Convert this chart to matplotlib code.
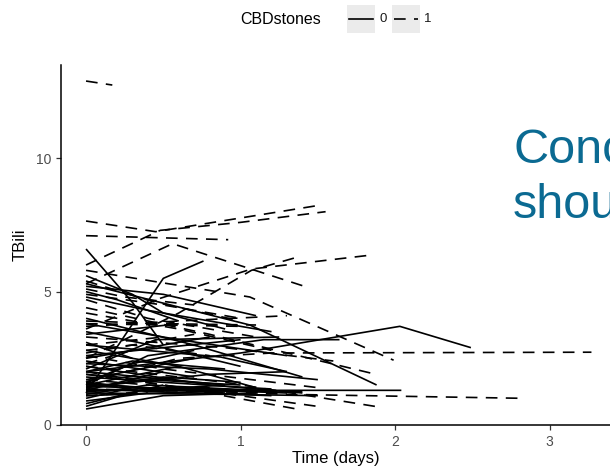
import matplotlib
matplotlib.use("Agg")
import matplotlib.pyplot as plt
from matplotlib.lines import Line2D
from matplotlib.patches import Rectangle

plt.rcParams['font.family'] = ['Liberation Sans', 'DejaVu Sans']

# 每位病人的觀察時間 (days) 與 TBili 數值, CBDstones = 0
solid_t = [
    [0, 1.0, 2.03, 2.49], [0, 1.06, 1.88], [0, 0.5, 2.04], [0, 0.5, 0.76],
    [0, 0.3, 0.5], [0, 0.3, 0.5, 0.9], [0, 0.4, 1.15, 1.64], [0, 0.87, 1.3],
    [0, 0.8, 1.5], [0, 0.5, 1.1], [0, 0.5], [0, 0.3, 0.9], [0, 0.6, 1.2],
    [0, 0.5, 1.0], [0, 0.7], [0, 0.9], [0, 0.4, 0.8], [0, 0.6, 1.1], [0, 0.3],
    [0, 0.5, 1.0], [0, 0.7, 1.4], [0, 0.4, 1.2], [0, 0.2, 0.6], [0, 0.5, 1.0],
    [0, 0.4], [0, 0.5, 1.2], [0, 0.6], [0, 0.3, 0.7], [0, 0.8, 1.4],
    [0, 0.6, 1.3], [0, 1.0], [0, 0.45, 1.25], [0, 0.5], [0, 0.35, 0.9],
    [0, 0.9, 1.5], [0, 0.4, 1.0], [0, 0.6], [0, 0.7], [0, 0.3, 0.8, 1.3],
    [0, 0.5, 1.1], [0, 0.6, 1.3], [0, 0.4, 1.1], [0, 0.8], [0, 0.5, 1.4],
    [0, 0.3, 0.9], [0, 0.7, 1.2],
]
solid_y = [
    [2.0, 2.7, 3.7, 2.9], [5.3, 3.75, 1.5], [1.6, 1.3, 1.3], [1.2, 5.5, 6.15],
    [6.6, 4.6, 3.0], [5.6, 4.9, 4.2, 3.6], [1.5, 2.6, 3.2, 3.2], [3.0, 2.55, 2.0],
    [2.3, 2.1, 1.7], [0.6, 1.1, 1.2], [0.8, 1.5], [1.0, 1.4, 1.2], [1.3, 1.3, 1.25],
    [1.4, 1.8, 1.6], [1.7, 2.5], [2.0, 1.5], [2.5, 2.9, 3.3], [2.8, 2.2, 1.4], [3.1, 2.5],
    [3.5, 2.9, 2.2], [4.0, 3.0, 1.8], [4.8, 4.3, 3.5], [5.0, 4.7, 3.9], [1.1, 1.2, 1.3],
    [0.9, 1.2], [1.8, 1.6, 1.35], [1.5, 2.2], [1.6, 2.3, 2.8], [2.2, 1.5, 1.2],
    [3.8, 3.2, 2.6], [2.6, 3.2], [2.1, 3.2, 3.3], [1.3, 2.0], [0.7, 1.3, 1.5],
    [1.2, 1.15, 1.1], [1.9, 1.7, 1.5], [3.4, 3.8], [2.4, 1.8], [1.4, 1.6, 1.9, 2.0],
    [5.2, 4.9, 4.1], [1.45, 1.35, 1.2], [1.15, 1.5, 1.3], [1.55, 1.25], [1.25, 1.4, 1.25],
    [2.0, 2.4, 2.1], [1.35, 1.2, 1.1],
]

# CBDstones = 1
dash_t = [
    [0, 0.17], [0, 0.45, 1.52], [0, 0.48, 1.0, 1.55], [0, 0.92], [0, 0.56, 1.44],
    [0, 0.48, 1.07, 1.84], [0, 0.6, 1.07, 1.37], [0, 1.06, 1.99], [0, 0.6, 1.2, 3.27],
    [0, 1.3, 2.83], [0, 0.8, 1.84], [0, 0.9, 1.9], [0, 0.7, 1.4], [0, 1.52],
    [0, 0.5, 1.0], [0, 0.6, 1.3], [0, 1.0], [0, 0.4, 1.1], [0, 0.5], [0, 0.3, 0.8],
    [0, 0.5, 1.5], [0, 0.25, 0.7], [0, 0.35], [0, 1.2], [0, 0.9, 1.6], [0, 0.8],
    [0, 0.6, 1.2], [0, 0.45, 1.0], [0, 0.7], [0, 0.6, 1.25], [0, 0.5, 1.1],
]
dash_y = [
    [12.9, 12.75], [7.65, 7.25, 8.25], [6.0, 7.3, 7.6, 8.0], [7.1, 6.95], [5.3, 6.8, 5.15],
    [3.6, 4.75, 5.85, 6.37], [2.5, 4.2, 5.8, 6.3], [5.8, 4.8, 2.43], [1.6, 2.5, 2.7, 2.73],
    [1.5, 1.15, 1.0], [4.4, 3.4, 1.95], [2.2, 1.6, 0.67], [2.0, 1.3, 0.56], [1.9, 0.68],
    [4.9, 4.5, 4.0], [3.7, 3.9, 4.1], [3.8, 3.7], [4.7, 4.0, 3.3], [3.0, 3.3], [2.8, 3.0, 2.6],
    [2.6, 2.1, 1.4], [5.1, 4.8, 4.5], [2.3, 2.9], [1.35, 1.2], [3.3, 2.9, 2.4], [1.1, 1.4],
    [4.2, 3.6, 2.8], [5.4, 4.6, 3.9], [2.7, 3.4], [1.7, 1.4, 1.25], [3.9, 3.8, 3.75],
]

x_ticks = [0, 1, 2, 3]
y_ticks = [0, 5, 10]

fig = plt.figure(figsize=(6.1, 4.73), dpi=100)
ax = fig.add_axes([0.1, 0.1015, 0.9, 0.761])

for t, y in zip(solid_t, solid_y):
    ax.plot(t, y, color='black', lw=1.2, solid_capstyle='butt')
for t, y in zip(dash_t, dash_y):
    ax.plot(t, y, color='black', lw=1.2, dashes=(7, 5), dash_capstyle='butt')

ax.set_xlim(-0.162, 3.39)
ax.set_ylim(0, 13.5)
ax.set_xticks(x_ticks)
ax.set_yticks(y_ticks)
ax.spines['top'].set_visible(False)
ax.spines['right'].set_visible(False)
for s in ['left', 'bottom']:
    ax.spines[s].set_linewidth(1.1)
ax.tick_params(length=3.5, width=0.9, color='#333333', labelcolor='#4D4D4D', labelsize=10)
ax.set_xlabel("Time (days)", fontsize=12, labelpad=2)
ax.set_ylabel("TBili", fontsize=12, labelpad=6)

# 圖例 (放在上方, 像 ggplot)
W, H = 610, 473
fig.text(240 / W, 1 - 19 / H, "CBDstones", fontsize=11.5, va='center', ha='left')
for x0, lab, style in [(347, "0", 'solid'), (392, "1", 'dashed')]:
    fig.patches.append(Rectangle((x0 / W, 1 - 33 / H), 28 / W, 28 / H,
                                 transform=fig.transFigure, facecolor='#EBEBEB',
                                 edgecolor='none'))
    ln = Line2D([(x0 + 2) / W, (x0 + 26) / W], [1 - 19 / H, 1 - 19 / H],
                transform=fig.transFigure, color='black', lw=1.2)
    if style == 'dashed':
        ln.set_dashes((7, 5))
    fig.lines.append(ln)
    fig.text((x0 + 32) / W, 1 - 19 / H, lab, fontsize=9.5, va='center', ha='left',
             color='#1A1A1A')

# 投影片上的文字 (右側被裁切, 與原圖相同)
fig.text(513 / W, 1 - 163 / H, "Conc", fontsize=35, color='#0B6A92', va='baseline')
fig.text(513 / W, 1 - 218 / H, "shou", fontsize=35, color='#0B6A92', va='baseline')

fig.savefig("out.png", dpi=100)
